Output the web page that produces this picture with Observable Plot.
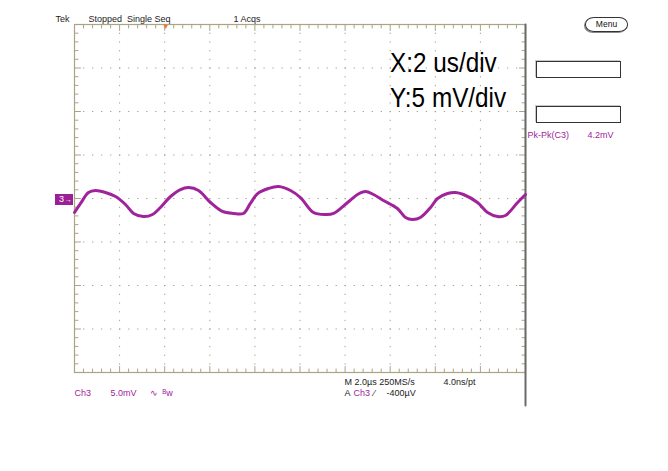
<!DOCTYPE html>
<html><head><meta charset="utf-8">
<script src="https://cdn.jsdelivr.net/npm/d3@7"></script>
<script src="https://cdn.jsdelivr.net/npm/@observablehq/plot@0.6"></script>
<style>
body{margin:0;background:#fff;}
#wrap{position:relative;width:668px;height:471px;font-family:"Liberation Sans",Arial,sans-serif;overflow:hidden;}
.box{position:absolute;border:1px solid #333;box-shadow:-1px -1px 0 #c8c8c8;background:#fff;}
.menu{position:absolute;border:1.2px solid #333;border-radius:9px/7px;box-shadow:-1px 1px 0 #888;font-size:8.5px;color:#111;text-align:center;}
.marker{position:absolute;background:#9c1f98;color:#fff;font-size:9px;line-height:11px;white-space:nowrap;padding-left:4px;box-sizing:border-box;}
.big{position:absolute;font-size:27px;color:#000;transform-origin:0 0;transform:scaleX(0.9);white-space:nowrap;line-height:1;}
</style></head><body><div id="wrap"></div>
<script>
// Trace: time (µs) and voltage (mV, relative to centre)
const timeUs = [0,0.27,0.62,0.93,1.37,1.82,2.26,2.62,3.06,3.46,3.81,4.26,4.70,5.06,5.50,6.03,6.56,7.05,7.49,7.80,8.12,8.60,9.05,9.58,10.02,10.60,11.13,11.49,12.11,12.55,12.90,13.26,13.70,14.32,14.68,14.99,15.34,15.79,16.10,16.54,16.90,17.25,17.87,18.32,18.76,19.11,19.65,20.00];
const voltageMv = [-1.61,-0.57,0.69,0.92,0.69,0.23,-0.69,-1.72,-2.07,-1.84,-1.03,0.23,1.03,1.26,0.92,-0.46,-1.49,-1.72,-1.72,-0.57,0.57,1.15,1.38,0.92,0.11,-1.61,-1.84,-1.72,-0.46,0.46,0.80,0.46,-0.23,-1.15,-2.18,-2.41,-2.18,-1.03,0.00,0.57,0.69,0.46,-0.46,-1.61,-2.07,-1.95,-0.46,0.46];

const xDivisions = [0,2,4,6,8,10,12,14,16,18,20];      // 2 µs/div
const yDivisions = [-20,-15,-10,-5,0,5,10,15,20];      // 5 mV/div
const triggerUs = [4.04];

const minorX = d3.range(0, 20.001, 0.4).map(v => +v.toFixed(2)).filter(v => Math.abs(v/2 - Math.round(v/2)) > 1e-6);
const minorY = d3.range(-20, 20.001, 1).filter(v => v % 5 !== 0);

const trace = timeUs.map((t, i) => ({t, v: voltageMv[i]}));

const GRID = "#a9a584";
const DOT = "#a8a48a";
const PURPLE = "#a0239c";
const tickShape = {draw(ctx, l){ ctx.moveTo(0,0); ctx.lineTo(0,-l); }};

const ML = 74, MT = 24;
function label(text, px, py, o = {}) {
  return Plot.text([text], {
    frameAnchor: "top-left", dx: px - ML, dy: py - MT,
    textAnchor: "start", lineAnchor: "bottom",
    fontSize: 9, fill: "#222", ...o
  });
}
function borderTicks(xs, ys, rotate, len) {
  return Plot.vector(xs.map((x, i) => ({x, y: ys[i]})), {x: "x", y: "y", length: len, rotate, anchor: "start", shape: tickShape, stroke: GRID, strokeWidth: 1});
}
const MINOR = 3.5, MAJOR = 6;

const plot = Plot.plot({
  width: 668, height: 471,
  marginLeft: ML, marginRight: 143, marginTop: MT, marginBottom: 99,
  style: {fontFamily: "'Liberation Sans', Arial, sans-serif", background: "transparent", overflow: "visible"},
  x: {domain: [0, 20], axis: null},
  y: {domain: [-20, 20], axis: null},
  marks: [
    // dotted graticule
    Plot.ruleX(xDivisions.slice(1, -1), {x: d => d, stroke: DOT, strokeWidth: 1, strokeDasharray: "1.3 7.4"}),
    Plot.ruleY(yDivisions.slice(1, -1), {y: d => d, stroke: DOT, strokeWidth: 1, strokeDasharray: "1.3 7.72"}),
    // border ticks
    borderTicks(minorX, minorX.map(() => 20), 180, MINOR),
    borderTicks(xDivisions, xDivisions.map(() => 20), 180, MAJOR),
    borderTicks(minorX, minorX.map(() => -20), 0, MINOR),
    borderTicks(xDivisions, xDivisions.map(() => -20), 0, MAJOR),
    borderTicks(minorY.map(() => 0), minorY, 90, MINOR),
    borderTicks(yDivisions.map(() => 0), yDivisions, 90, MAJOR),
    borderTicks(minorY.map(() => 20), minorY, -90, MINOR),
    borderTicks(yDivisions.map(() => 20), yDivisions, -90, MAJOR),
    Plot.frame({stroke: GRID, strokeWidth: 1.2}),
    // right-hand dark divider
    Plot.vector([20], {x: d => d, y: 20, length: 381, rotate: 180, anchor: "start", shape: tickShape, stroke: "#6a6a6a", strokeWidth: 2}),
    // trigger position marker
    Plot.text(triggerUs, {x: d => d, y: 20, text: () => "▼", fill: "#f07a2a", fontSize: 8, dy: 2}),
    // waveform
    Plot.line(trace, {x: "t", y: "v", stroke: PURPLE, strokeWidth: 3, curve: "catmull-rom"}),
    // status text
    label("Tek", 55, 21),
    label("Stopped  Single Seq", 88, 21),
    label("1 Acqs", 233, 21),
    label("Pk-Pk(C3)", 527, 137, {fill: PURPLE}),
    label("4.2mV", 587, 137, {fill: PURPLE}),
    label("Ch3", 74, 395, {fill: PURPLE}),
    label("5.0mV", 110, 395, {fill: PURPLE}),
    label("∿", 149, 395, {fill: PURPLE}),
    label("ᴮw", 162, 395, {fill: PURPLE}),
    label("M 2.0µs 250MS/s", 344, 384),
    label("4.0ns/pt", 443, 384),
    label("A", 344, 395),
    label("Ch3", 353, 395, {fill: PURPLE}),
    label("⁄", 373, 395),
    label("-400µV", 386, 395)
  ]
});

const wrap = document.getElementById("wrap");
plot.style.position = "absolute";
plot.style.left = "0"; plot.style.top = "0";
wrap.appendChild(plot);

function addDiv(cls, l, t, w, h, html) {
  const d = document.createElement("div");
  d.className = cls;
  Object.assign(d.style, {left: l + "px", top: t + "px"});
  if (w != null) d.style.width = w + "px";
  if (h != null) d.style.height = h + "px";
  if (html) d.innerHTML = html;
  wrap.appendChild(d);
  return d;
}
addDiv("box", 536, 61, 83, 15);
addDiv("box", 536, 106, 83, 15);
const m = addDiv("menu", 585, 17, 41, 13, "Menu");
m.style.lineHeight = "13px";
addDiv("big", 390, 50, null, null, "X:2 us/div");
addDiv("big", 390, 85, null, null, "Y:5 mV/div");
const y0 = plot.scale("y").apply(0);
addDiv("marker", 55, y0 - 4.5, 18, 11, "3<span style='font-size:7px;margin-left:1px'>→</span>");
</script></body></html>
